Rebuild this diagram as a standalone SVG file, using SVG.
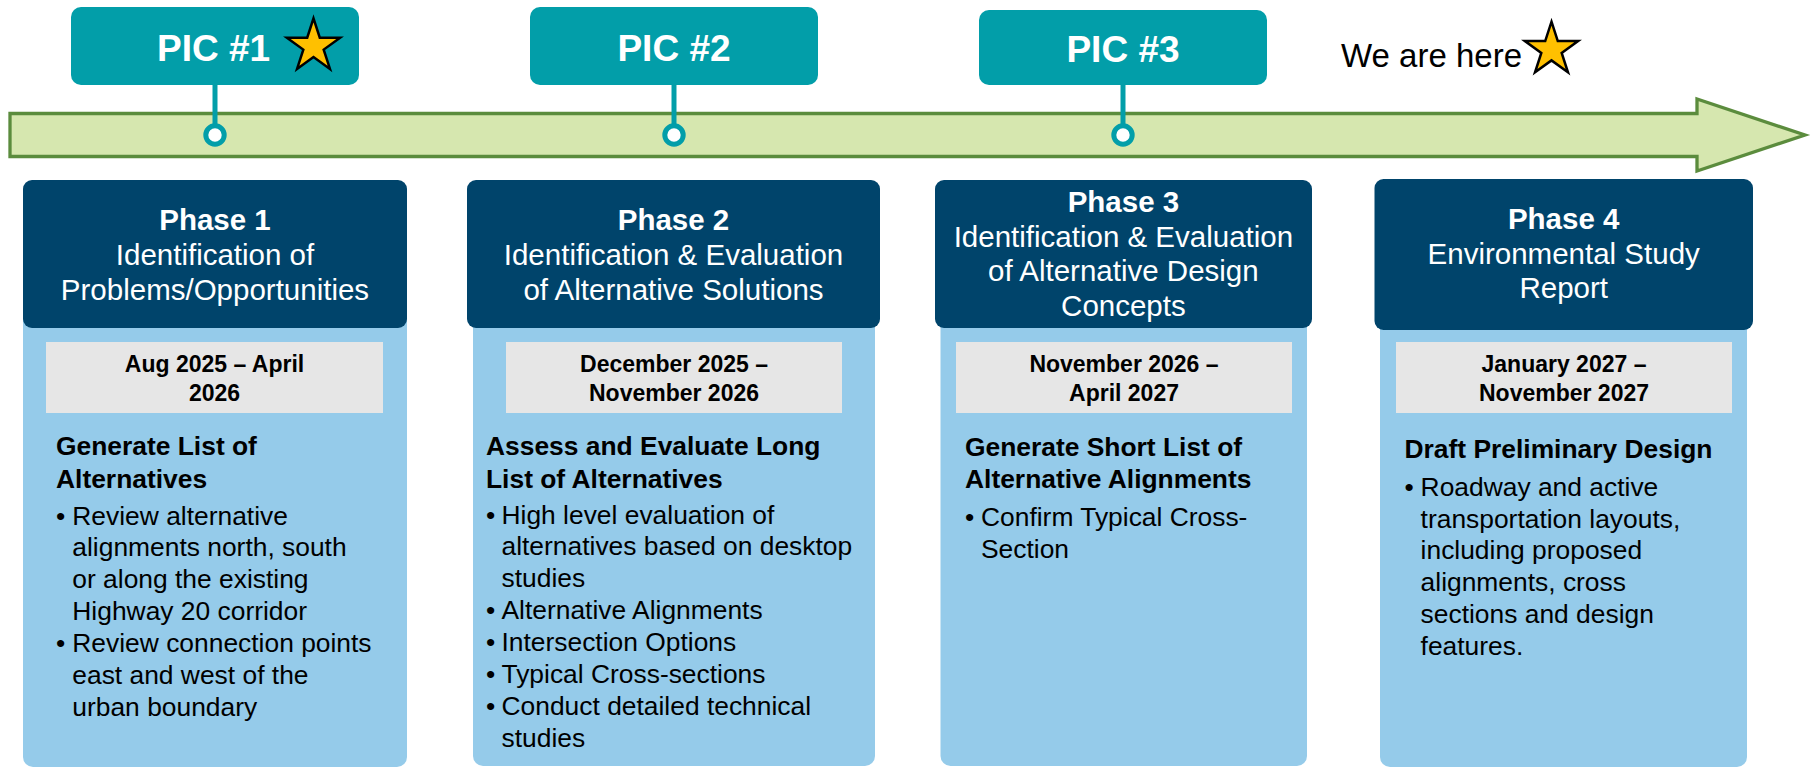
<svg xmlns="http://www.w3.org/2000/svg" xmlns:xlink="http://www.w3.org/1999/xlink" width="1814" height="768" viewBox="0 0 1814 768">
<defs>
<style>
.pic{fill:#029ea9}
.pict{font-family:"Liberation Sans",Arial,sans-serif;font-weight:bold;font-size:37px;fill:#fff}
.hdr{fill:#00446b}
.body{fill:#95cbea}
.date{fill:#e6e6e6}
.h1{font-family:"Liberation Sans",Arial,sans-serif;font-weight:bold;font-size:29.5px;fill:#fff;text-anchor:middle}
.h2{font-family:"Liberation Sans",Arial,sans-serif;font-size:29.5px;fill:#fff;text-anchor:middle}
.dt{font-family:"Liberation Sans",Arial,sans-serif;font-weight:bold;font-size:23px;fill:#000;text-anchor:middle}
.bh{font-family:"Liberation Sans",Arial,sans-serif;font-weight:bold;font-size:26.4px;fill:#000}
.bt{font-family:"Liberation Sans",Arial,sans-serif;font-size:26.4px;fill:#000}
.conn{stroke:#029ea9;stroke-width:5;fill:none}
.dot{stroke:#029ea9;stroke-width:5;fill:#fff}
.star{fill:#ffc000;stroke:#000;stroke-width:2.5;stroke-linejoin:miter}
</style>
<polygon id="star" points="0,-28 6.29,-8.66 26.63,-8.65 10.18,3.31 16.46,22.65 0,10.7 -16.46,22.65 -10.18,3.31 -26.63,-8.65 -6.29,-8.66"/>
</defs>

<g id="timeline-arrow">
<polygon points="10,113.5 1697,113.5 1697,99 1805,135 1697,171 1697,156.5 10,156.5" fill="#d6e7af" stroke="#5b8c3d" stroke-width="3.3"/>
</g>

<g id="connectors">
<line class="conn" x1="215" y1="84" x2="215" y2="126"/>
<line class="conn" x1="674" y1="84" x2="674" y2="126"/>
<line class="conn" x1="1123" y1="84" x2="1123" y2="126"/>
<circle class="dot" cx="215" cy="135" r="9.2"/>
<circle class="dot" cx="674" cy="135" r="9.2"/>
<circle class="dot" cx="1123" cy="135" r="9.2"/>
</g>

<g id="pic1">
<rect class="pic" x="71" y="7" width="288" height="78" rx="10"/>
<text class="pict" x="157" y="61">PIC #1</text>
<use xlink:href="#star" href="#star" class="star" transform="translate(313.5,46.3)"/>
</g>
<g id="pic2">
<rect class="pic" x="530" y="7" width="288" height="78" rx="10"/>
<text class="pict" x="674" y="61" text-anchor="middle">PIC #2</text>
</g>
<g id="pic3">
<rect class="pic" x="979" y="10" width="288" height="75" rx="10"/>
<text class="pict" x="1123" y="62" text-anchor="middle">PIC #3</text>
</g>

<g id="we-are-here">
<text x="1341" y="66.5" font-family="Liberation Sans, Arial, sans-serif" font-size="33" fill="#000">We are here</text>
<use xlink:href="#star" href="#star" class="star" transform="translate(1551.5,49.7)"/>
</g>

<g id="phase1">
<rect class="body" x="23" y="300" width="384" height="467" rx="10"/>
<rect class="hdr" x="23" y="180" width="384" height="148" rx="9"/>
<text class="h1" x="215" y="230">Phase 1</text>
<text class="h2" x="215" y="265">Identification of</text>
<text class="h2" x="215" y="299.5">Problems/Opportunities</text>
<rect class="date" x="46" y="342" width="337" height="71"/>
<text class="dt" x="214.5" y="372">Aug 2025 – April</text>
<text class="dt" x="214.5" y="400.7">2026</text>
<text class="bh" x="56" y="455">Generate List of</text>
<text class="bh" x="56" y="487.5">Alternatives</text>
<text class="bt" x="56" y="524.5">•</text>
<text class="bt" x="72.3" y="524.5">Review alternative</text>
<text class="bt" x="72.3" y="556.3">alignments north, south</text>
<text class="bt" x="72.3" y="588.2">or along the existing</text>
<text class="bt" x="72.3" y="620.1">Highway 20 corridor</text>
<text class="bt" x="56" y="652">•</text>
<text class="bt" x="72.3" y="652">Review connection points</text>
<text class="bt" x="72.3" y="683.9">east and west of the</text>
<text class="bt" x="72.3" y="715.8">urban boundary</text>
</g>

<g id="phase2">
<rect class="body" x="473" y="300" width="402" height="466" rx="10"/>
<rect class="hdr" x="467" y="180" width="413" height="148" rx="9"/>
<text class="h1" x="673.5" y="230">Phase 2</text>
<text class="h2" x="673.5" y="265">Identification &amp; Evaluation</text>
<text class="h2" x="673.5" y="299.5">of Alternative Solutions</text>
<rect class="date" x="506" y="342" width="336" height="71"/>
<text class="dt" x="674" y="372">December 2025 –</text>
<text class="dt" x="674" y="400.7">November 2026</text>
<text class="bh" x="486" y="455">Assess and Evaluate Long</text>
<text class="bh" x="486" y="487.5">List of Alternatives</text>
<text class="bt" x="486" y="523.5">•</text>
<text class="bt" x="501.5" y="523.5">High level evaluation of</text>
<text class="bt" x="501.5" y="555.3">alternatives based on desktop</text>
<text class="bt" x="501.5" y="587.1">studies</text>
<text class="bt" x="486" y="619">•</text>
<text class="bt" x="501.5" y="619">Alternative Alignments</text>
<text class="bt" x="486" y="650.8">•</text>
<text class="bt" x="501.5" y="650.8">Intersection Options</text>
<text class="bt" x="486" y="682.6">•</text>
<text class="bt" x="501.5" y="682.6">Typical Cross-sections</text>
<text class="bt" x="486" y="714.5">•</text>
<text class="bt" x="501.5" y="714.5">Conduct detailed technical</text>
<text class="bt" x="501.5" y="746.5">studies</text>
</g>

<g id="phase3">
<rect class="body" x="940.5" y="300" width="366.5" height="466" rx="10"/>
<rect class="hdr" x="935" y="180" width="377" height="148" rx="9"/>
<text class="h1" x="1123.4" y="211.7">Phase 3</text>
<text class="h2" x="1123.4" y="246.5">Identification &amp; Evaluation</text>
<text class="h2" x="1123.4" y="281.3">of Alternative Design</text>
<text class="h2" x="1123.4" y="315.5">Concepts</text>
<rect class="date" x="956" y="342" width="336" height="71"/>
<text class="dt" x="1124" y="372">November 2026 –</text>
<text class="dt" x="1124" y="400.7">April 2027</text>
<text class="bh" x="965" y="455.7">Generate Short List of</text>
<text class="bh" x="965" y="488">Alternative Alignments</text>
<text class="bt" x="965" y="525.7">•</text>
<text class="bt" x="981" y="525.7">Confirm Typical Cross-</text>
<text class="bt" x="981" y="557.5">Section</text>
</g>

<g id="phase4">
<rect class="body" x="1380" y="300" width="367" height="467" rx="10"/>
<rect class="hdr" x="1374.5" y="179" width="378.5" height="151" rx="9"/>
<text class="h1" x="1563.7" y="229.3">Phase 4</text>
<text class="h2" x="1563.7" y="263.5">Environmental Study</text>
<text class="h2" x="1563.7" y="298.3">Report</text>
<rect class="date" x="1396" y="342" width="336" height="71"/>
<text class="dt" x="1564" y="372">January 2027 –</text>
<text class="dt" x="1564" y="400.7">November 2027</text>
<text class="bh" x="1404.5" y="458">Draft Preliminary Design</text>
<text class="bt" x="1404.5" y="495.7">•</text>
<text class="bt" x="1420.6" y="495.7">Roadway and active</text>
<text class="bt" x="1420.6" y="527.5">transportation layouts,</text>
<text class="bt" x="1420.6" y="559.4">including proposed</text>
<text class="bt" x="1420.6" y="591.2">alignments, cross</text>
<text class="bt" x="1420.6" y="623.1">sections and design</text>
<text class="bt" x="1420.6" y="655">features.</text>
</g>
</svg>
